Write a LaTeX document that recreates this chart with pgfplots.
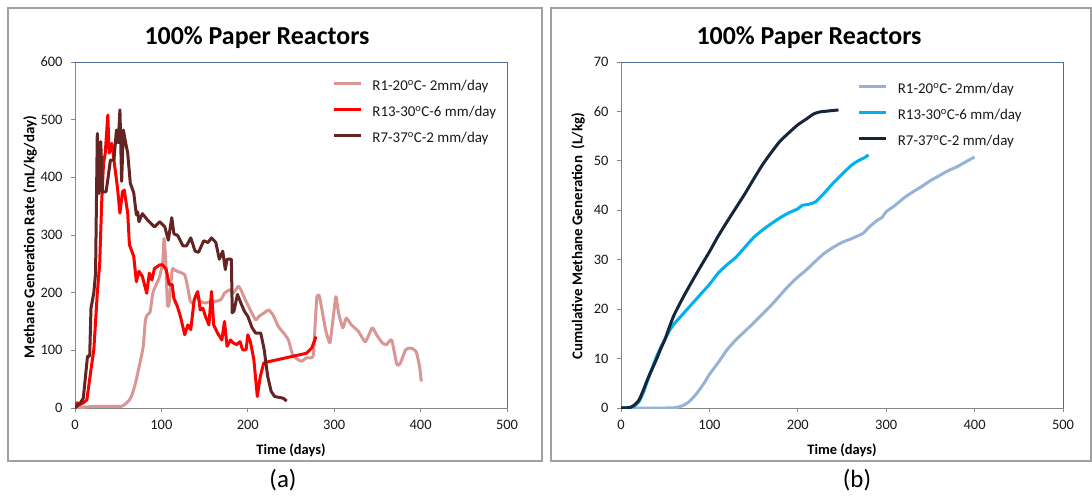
\documentclass[border=0pt]{standalone}
\usepackage{fontspec}
\setmainfont{Carlito}
\usepackage{pgfplots}
\pgfplotsset{compat=1.18}
\definecolor{pinkR}{RGB}{217,150,148}
\definecolor{redR}{RGB}{255,0,0}
\definecolor{brownR}{RGB}{99,37,35}
\definecolor{lblue}{RGB}{149,179,215}
\definecolor{cyanR}{RGB}{0,176,240}
\definecolor{navyR}{RGB}{22,37,58}
\definecolor{axgray}{RGB}{134,134,134}
\definecolor{axblue}{RGB}{80,110,150}
\definecolor{boxgray}{RGB}{160,160,160}
\pgfplotsset{
 paperaxis/.style={
  scale only axis, anchor=south west,
  axis lines*=left,
  axis line style={draw=axgray, line width=1bp},
  tick align=outside, major tick length=4bp,
  tick style={draw=axgray, line width=0.8bp},
  xmin=0, xmax=500, xtick={0,100,...,500},
  /pgf/number format/assume math mode=true,
  tick label style={font=\fontsize{14.5}{16}\selectfont, text=black!90},
  xticklabel style={yshift=-5bp},
  yticklabel style={xshift=-5bp},
  legend cell align=left,
  legend style={draw=none, fill=none, inner sep=0pt, row sep=13bp, column sep=7bp,
    font=\fontsize{15}{17}\selectfont, text=black!90,
    nodes={inner ysep=0pt, inner xsep=3bp, text height=10bp, text depth=3bp}},
  legend image code/.code={\draw[##1, line width=3.2bp] (0bp,4bp) -- (27bp,4bp);},
  after end axis/.code={\draw[axblue, line width=1bp] (rel axis cs:0,1) -- (rel axis cs:1,1) -- (rel axis cs:1,0);},
  every axis plot/.append style={line width=3bp, line join=round, no markers},
 }
}
\begin{document}
\begin{tikzpicture}
\path[use as bounding box] (0,0) rectangle (1092bp,-497bp);
\draw[boxgray, line width=1.3bp] (8bp,-8bp) rectangle (542bp,-461bp);
\draw[boxgray, line width=1.3bp] (551bp,-8bp) rectangle (1091bp,-461bp);
% ---------- (a) ----------
\begin{axis}[paperaxis, at={(75bp,-408bp)}, width=432bp, height=346bp,
  ymin=0, ymax=600, ytick={0,100,...,600},
  legend style={at={(rel axis cs:0.595,0.946)}, anchor=north west}]
\addplot[pinkR, smooth, tension=0.3] coordinates {
(0,0) (14,2) (34,3) (54,3) (59,8) (63,14) (66,23) (70,43) (73.4,66) (76,84) (79,107) (81.5,153) (84,162) (87,167) (90,199) (94,214) (98,228) (101.6,254) (103,294) (105,257) (107,179) (109,182) (112.5,240) (114.5,240) (118.5,237) (127,231) (130.6,208) (133.5,185) (137,182) (141,199) (145,185) (151,182) (157,185) (163,185) (169,188) (173,199) (179,205) (183,199) (189,211) (192,205) (197,188) (202,173) (209,153) (213,159) (219,165) (224,170) (229,162) (235.5,141) (241.5,130) (247,118) (252,92) (258,84) (262,81) (268,87) (273,87) (276,92) (278,147) (280,193) (283,193) (290,136) (295,113) (299,159) (302,193) (305,165) (310,139) (314,156) (320,144) (328,133) (336,115) (344,139) (349,127) (355.6,113) (360.5,110) (366.5,118) (372.6,75) (376.6,78) (382.7,101) (388.7,104) (394.8,98) (398.8,72) (400.8,46)};
\addlegendentry{R1-20\textsuperscript{o}C- 2mm/day}
\addplot[redR] coordinates {
(0,0) (2.4,9) (5.6,6) (9.7,9) (13.7,14) (19,72) (21.8,101) (25.8,199) (28.6,251) (31,361) (33,424) (35,442) (38,508) (39.5,442) (42.7,459) (46,419) (49,384) (52,338) (55,375) (57,378) (61,338) (63,283) (68,263) (71,219) (74,237) (78,228) (83,199) (86,234) (89,222) (92,242) (98,248) (101.6,248) (105.6,240) (109,214) (112.5,214) (114.5,190) (118.5,176) (122,159) (127,127) (130.6,144) (134,136) (138,188) (142,202) (145,170) (148,173) (151,159) (155,144) (158,202) (160.5,144) (165,130) (170,118) (173,150) (176,107) (180,118) (183,113) (187,110) (191,115) (194,101) (198,101) (200,127) (203,115) (207,84) (211,20) (214.5,55) (218.5,78) (223,80) (268,95) (274,104) (279,124)};
\addlegendentry{R13-30\textsuperscript{o}C-6 mm/day}
\addplot[brownR] coordinates {
(0,0) (5.8,8) (9.6,17) (14.5,90) (17,90) (18.5,173) (21.8,200) (23.8,234) (25.8,476) (27.8,372) (29.8,462) (31.8,375) (35.9,375) (37.9,395) (41,430) (45,430) (48,482) (50,460) (52,517) (54,393) (56,482) (58,465) (61,442) (64,390) (68,373) (71,335) (72.6,340) (74,323) (78,337) (84,326) (92,314) (98,323) (104,314) (108,291) (112,330) (114.5,302) (119,299) (125,281) (129,281) (134,295) (139,272) (143,270) (149,290) (154,287) (158,295) (163,287) (167,258) (171,272) (174,240) (176,258) (181,258) (182,165) (184,168) (188,197) (192,182) (196,168) (200,159) (205,139) (209,130) (215,130) (219,101) (223,55) (227,29) (231,20) (241,17) (245,12)};
\addlegendentry{R7-37\textsuperscript{o}C-2 mm/day}
\end{axis}
% ---------- (b) ----------
\begin{axis}[paperaxis, at={(621bp,-408bp)}, width=442bp, height=346bp,
  ymin=0, ymax=70, ytick={0,10,...,70},
  legend style={at={(rel axis cs:0.535,0.938)}, anchor=north west}]
\addplot[lblue, smooth, tension=0.4] coordinates {
(0,0) (30,0) (50,0) (60,0.05) (65,0.2) (70,0.5) (75,1) (80,1.8) (85,2.8) (90,4) (95,5.3) (100,6.8) (105,8) (110,9.2) (115,10.5) (120,11.8) (130,13.8) (140,15.5) (150,17.2) (160,19) (170,20.8) (180,22.8) (190,24.8) (200,26.5) (210,28) (220,29.7) (230,31.3) (240,32.5) (250,33.5) (260,34.2) (270,35) (275,35.5) (280,36.5) (290,38) (295,38.5) (300,39.7) (310,41) (320,42.5) (330,43.7) (340,44.8) (350,46) (360,47) (370,48) (380,48.8) (390,49.8) (400,50.8)};
\addlegendentry{R1-20\textsuperscript{o}C- 2mm/day}
\addplot[cyanR, smooth, tension=0.4] coordinates {
(0,0) (10,0.1) (15,0.4) (20,1.2) (25,3) (30,5.5) (35,8) (40,10.3) (45,12.3) (50,14) (55,15.7) (60,17) (70,19) (80,21) (90,23) (100,25) (110,27.3) (120,29) (130,30.5) (140,32.5) (150,34.5) (160,36) (170,37.3) (180,38.5) (190,39.5) (200,40.3) (205,41) (212,41.2) (220,41.7) (230,43.5) (240,45.5) (250,47.3) (260,49) (268,50) (275,50.6) (280,51.2)};
\addlegendentry{R13-30\textsuperscript{o}C-6 mm/day}
\addplot[navyR, smooth, tension=0.4] coordinates {
(0,0) (10,0.1) (15,0.6) (20,1.5) (25,3.5) (30,5.8) (35,7.8) (40,9.8) (45,12) (50,14) (55,16.5) (60,18.8) (70,22.3) (80,25.5) (90,28.6) (100,31.6) (110,34.8) (120,37.7) (130,40.5) (140,43.3) (150,46.3) (160,49.2) (170,51.7) (180,54) (190,55.7) (200,57.3) (210,58.5) (218,59.5) (225,59.9) (235,60.1) (246,60.3)};
\addlegendentry{R7-37\textsuperscript{o}C-2 mm/day}
\end{axis}
% titles and labels
\node[font=\bfseries\fontsize{26}{30}\selectfont] at (257bp,-38bp) {100\% Paper Reactors};
\node[font=\bfseries\fontsize{26}{30}\selectfont] at (809bp,-38bp) {100\% Paper Reactors};
\node[font=\bfseries\fontsize{14.5}{16}\selectfont] at (291bp,-450bp) {Time (days)};
\node[font=\bfseries\fontsize{14.5}{16}\selectfont] at (842bp,-450bp) {Time (days)};
\node[font=\bfseries\fontsize{15}{17}\selectfont, rotate=90] at (30bp,-237bp) {Methane Generation Rate (mL/kg/day)};
\node[font=\bfseries\fontsize{15}{17}\selectfont, rotate=90] at (578bp,-236bp) {Cumulative Methane Generation\ \ (L/kg)};
\node[font=\fontsize{25}{30}\selectfont] at (283bp,-480bp) {(a)};
\node[font=\fontsize{25}{30}\selectfont] at (857bp,-480bp) {(b)};
\end{tikzpicture}
\end{document}
